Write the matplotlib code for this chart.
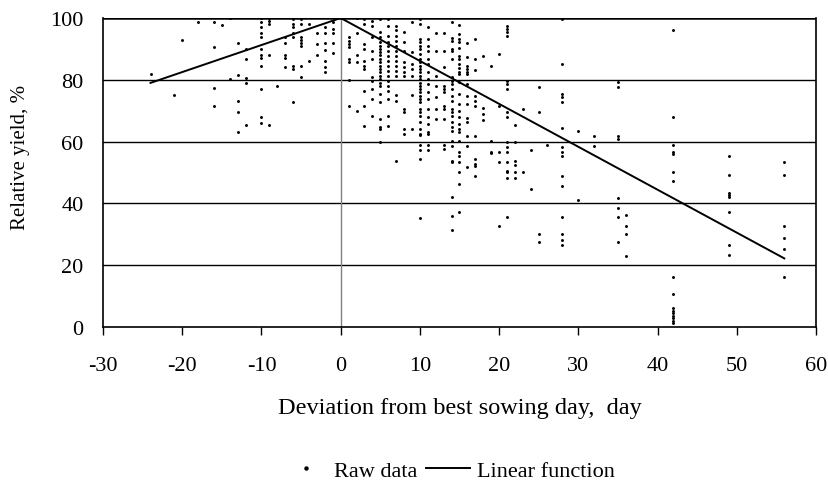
import matplotlib
matplotlib.use("Agg")
import matplotlib.pyplot as plt
from matplotlib.lines import Line2D

plt.rcParams['font.family'] = ['Liberation Serif', 'DejaVu Serif']

# Raw data columns: sowing-day deviation and relative yields observed at that deviation
raw_days = [-24, -21, -20, -18, -16, -15, -14, -13, -12, -10, -9, -8, -7, -6, -5, -4, -3, -2, -1, 0,
            1, 2, 3, 4, 5, 6, 7, 8, 9, 10, 11, 12, 13, 14, 15, 16, 17, 18, 19, 20,
            21, 22, 23, 24, 25, 26, 28, 30, 32, 35, 36, 42, 49, 56]
raw_yields = [
    [82], [75], [92.8], [98.8], [98.8, 90.7, 77.5, 71.5], [97.7], [100, 80.2],
    [92, 81.7, 73, 69.6, 63], [90, 86.7, 80.6, 79, 65.4],
    [100, 98.6, 97, 95, 94, 90, 88, 87, 84.5, 77, 68, 66],
    [100, 99, 98, 88, 65.4], [78], [94, 92, 88, 87, 84],
    [99.7, 98, 97, 95, 94, 84.5, 83.5, 72.7],
    [99.7, 98, 94, 93, 92, 91, 84.5, 81], [98, 86], [95, 91.6, 88],
    [97, 95, 92, 89.5, 86, 84, 82.6], [98.7, 96.5, 95, 92, 88.7], [100],
    [94, 92.6, 91.6, 90.5, 86.7, 85.6, 80, 71.6],
    [100, 95.3, 88, 85.6, 70],
    [99.7, 98, 91.6, 90, 86, 84.5, 83.5, 76.5, 71.6, 65],
    [99, 97.5, 94, 89.4, 86.7, 80.8, 79.7, 77, 73.8, 68.4],
    [99.7, 95.4, 93.8, 92.2, 91, 90, 89, 88, 86.7, 85.6, 84.5, 83.5, 82.4, 81.3, 80.2, 79, 78,
     75.4, 72.7, 67.3, 64.6, 64, 59.8],
    [99.7, 97.5, 94.3, 92.1, 91, 89.4, 87.8, 86.2, 84.6, 83, 81.3, 79.7, 78.1, 76.5, 73.8, 68.4, 65.1],
    [97.5, 96, 94.3, 92.6, 91, 89.4, 87.8, 86.2, 84.6, 83, 81.3, 75, 73.3, 53.8],
    [95.4, 92.1, 89.4, 85.6, 84, 82.4, 81.3, 70.6, 69.5, 64, 62.5],
    [98.6, 88.9, 85.1, 83.5, 81.3, 75, 64],
    [99.7, 98, 93.2, 92.1, 91, 90, 88.3, 86.7, 85.6, 84.5, 83.5, 82.4, 81.3, 80.2, 79.1, 78.1, 77,
     75.9, 74.9, 73.8, 72.7, 70.6, 69.5, 68.4, 66.2, 64.1, 62.5, 62, 58.9, 57.4, 54.4, 35.2],
    [97, 93.2, 91, 89.4, 86.7, 85.1, 82.4, 80.2, 78.6, 75.9, 73.8, 70.6, 67.9, 65.7, 63, 62.5, 58.9, 57.4],
    [95, 89.4, 81.3, 78.1, 74.3, 70.6, 67.3],
    [95, 89.4, 84.2, 78, 77, 76, 71.6, 70.6, 67.3, 59, 57.6],
    [98.8, 93.4, 92.7, 90, 89.4, 86.7, 80.8, 79.7, 78.6, 77, 74.9, 73.2, 70.6, 69.5, 68.4, 66.2,
     64.6, 63.5, 60.3, 58.5, 53.8, 53.3, 42.2, 36, 31.5],
    [97.8, 94.8, 93.2, 92.1, 90.2, 87.8, 86.7, 85.1, 83.7, 82.4, 81.9, 79.2, 75.4, 72.2, 70, 67.9,
     65.7, 64.1, 63, 60.3, 56.5, 55.4, 53.3, 50.3, 46.3, 37.1],
    [91.8, 87.3, 84.6, 83.5, 82.4, 81.9, 78.6, 74.9, 72.2, 67.5, 66.2, 61.9, 58.5, 51.7],
    [93.2, 86.7, 83.2, 74.7, 73.2, 71.6, 61.9, 54.4, 52.8, 52.2, 48.8],
    [87.8, 70.8, 68.9, 67],
    [84.6, 60.3, 56.7, 56.3],
    [88.3, 71.6, 56.7, 53.5, 32.6],
    [97.5, 96.4, 95.4, 94.3, 79.7, 78.6, 77, 69.5, 67.9, 60, 58.2, 56.5, 53.3, 50.6, 50.3, 48.2, 35.7],
    [65.4, 60, 53.8, 52.4, 50.3, 48.2],
    [70.6, 50.3], [57.4, 44.7], [77.6, 69.5, 30, 27.5], [58.9],
    [99.7, 85.1, 75.4, 74.3, 72.9, 64.4, 58.2, 56.5, 55.4, 48.8, 45.7, 35.6, 30, 28, 26.5],
    [63.3, 41.1], [61.9, 58.5],
    [79.2, 77.6, 61.9, 60.8, 41.6, 38.6, 35.6, 27.5],
    [36.1, 32.6, 30, 23],
    [96.2, 68.1, 58.9, 56.5, 55.9, 50.3, 47.2, 16.1, 10.7, 6.0, 5.3, 4.5, 3.7, 2.8, 2.0, 1.3],
    [55.4, 49.3, 43.3, 42.7, 42.2, 37.3, 26.6, 23.4],
    [53.3, 49.3, 32.6, 28.7, 25.2, 16.1],
]

# Linear function vertices
line_days = [-24, 0, 56]
line_yields = [79, 100, 22.2]

x_ticks = [-30, -20, -10, 0, 10, 20, 30, 40, 50, 60]
y_ticks = [0, 20, 40, 60, 80, 100]

xs, ys = [], []
for d, col in zip(raw_days, raw_yields):
    for v in col:
        xs.append(d)
        ys.append(v)

FS = 16

fig = plt.figure(figsize=(8.29, 4.85), dpi=100)
ax = fig.add_axes([103/829, 1 - 328/485, (816-103)/829, (328-19)/485])

for yv in [20, 40, 60, 80]:
    ax.axhline(yv, color='black', lw=1.0, zorder=1)
ax.axhline(100, color='black', lw=1.8, zorder=1)
ax.axvline(0, color='#808080', lw=1.0, zorder=1)

ax.scatter(xs, ys, s=4.5, color='black', linewidths=0, zorder=3)
ax.plot(line_days, line_yields, color='black', lw=1.4, zorder=4)

ax.set_xlim(-30, 60)
ax.set_ylim(0, 100)
ax.set_xticks(x_ticks)
ax.set_yticks(y_ticks)
ax.set_xticklabels([str(t) for t in x_ticks])
ax.tick_params(axis='x', direction='out', length=6, width=1, labelsize=FS, pad=15)
ax.tick_params(axis='y', length=0, labelsize=FS, pad=14)

for s in ['left', 'bottom', 'right']:
    ax.spines[s].set_color('black')
    ax.spines[s].set_linewidth(1.2)
ax.spines['top'].set_visible(False)

ax.set_xlabel('Deviation from best sowing day,  day', fontsize=17.5, labelpad=16)
ax.set_ylabel('Relative yield, %', fontsize=15)
ax.yaxis.set_label_coords(-0.102, 0.553)

handles = [Line2D([], [], marker='o', markersize=2.2, color='black', lw=0),
           Line2D([], [], color='black', lw=1.4)]
fig.legend(handles, ['Raw data', 'Linear function'], loc='center', bbox_to_anchor=(0.5415, 0.027),
           ncol=2, frameon=False, fontsize=FS, handlelength=2.0, columnspacing=0.35,
           handletextpad=0.3)

fig.savefig('out.png', dpi=100)
